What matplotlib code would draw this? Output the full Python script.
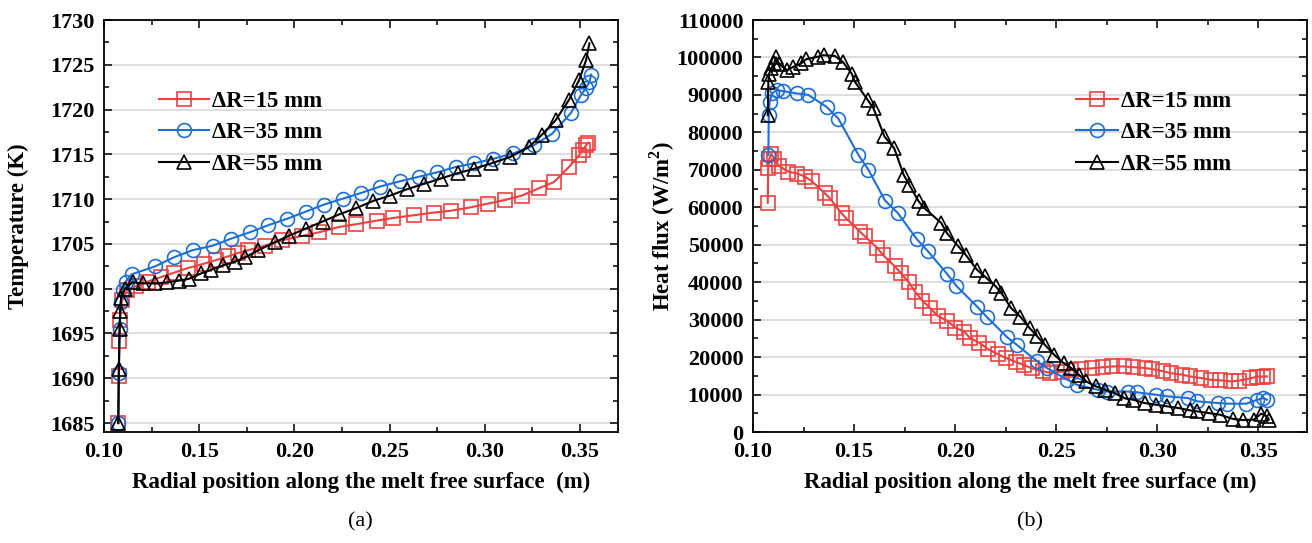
import matplotlib
matplotlib.use('Agg')
import matplotlib.pyplot as plt
from matplotlib.ticker import MultipleLocator

plt.rcParams['font.family'] = ['Liberation Serif', 'DejaVu Serif']
plt.rcParams['font.weight'] = 'bold'
plt.rcParams['mathtext.fontset'] = 'custom'
plt.rcParams['mathtext.rm'] = 'Liberation Serif:bold'

RED = '#ef3f3f'
BLUE = '#1c6fd8'
BLACK = '#000000'

labels = ['\u0394R=15 mm', '\u0394R=35 mm', '\u0394R=55 mm']

# (a) temperature along the free surface
x_t15 = [0.1075, 0.1078, 0.1080, 0.1083, 0.1095, 0.1120, 0.1170, 0.1230, 0.1300, 0.1370,
         0.1440, 0.1527, 0.1590, 0.1651, 0.1705, 0.1757, 0.1846, 0.1935, 0.2041, 0.2130,
         0.2236, 0.2325, 0.2432, 0.2520, 0.2627, 0.2733, 0.2822, 0.2929, 0.3017, 0.3106,
         0.3195, 0.3283, 0.3363, 0.3443, 0.3496, 0.3514, 0.3532, 0.3545]
t15 = [1685.0, 1690.3, 1694.2, 1696.5, 1698.7, 1699.8, 1700.3, 1700.8, 1701.3, 1701.8,
       1702.3, 1702.8, 1703.2, 1703.6, 1704.0, 1704.3, 1704.8, 1705.4, 1705.9, 1706.3,
       1706.9, 1707.2, 1707.6, 1707.9, 1708.2, 1708.5, 1708.7, 1709.1, 1709.5, 1709.9,
       1710.4, 1711.2, 1711.9, 1713.6, 1714.9, 1715.5, 1716.0, 1716.3]

x_t35 = [0.1075, 0.1078, 0.1082, 0.1088, 0.1100, 0.1115, 0.1145, 0.1269, 0.1367, 0.1465,
         0.1571, 0.1669, 0.1766, 0.1864, 0.1961, 0.2059, 0.2157, 0.2254, 0.2352, 0.2449,
         0.2556, 0.2654, 0.2751, 0.2849, 0.2946, 0.3044, 0.3150, 0.3257, 0.3354, 0.3452,
         0.3505, 0.3532, 0.3550, 0.3559]
t35 = [1685.0, 1690.6, 1695.5, 1698.5, 1699.9, 1700.8, 1701.6, 1702.5, 1703.5, 1704.3,
       1704.8, 1705.6, 1706.3, 1707.1, 1707.8, 1708.6, 1709.4, 1710.05, 1710.7, 1711.4,
       1712.0, 1712.5, 1713.0, 1713.6, 1714.0, 1714.5, 1715.1, 1716.0, 1717.3, 1719.6,
       1721.6, 1722.4, 1723.1, 1723.9]

x_t55 = [0.1075, 0.1078, 0.1082, 0.1085, 0.1090, 0.1110, 0.1150, 0.1205, 0.1268, 0.1330,
         0.1393, 0.1446, 0.1509, 0.1562, 0.1625, 0.1687, 0.1741, 0.1811, 0.1899, 0.1970,
         0.2059, 0.2148, 0.2236, 0.2325, 0.2414, 0.2503, 0.2591, 0.2680, 0.2769, 0.2858,
         0.2946, 0.3035, 0.3133, 0.3230, 0.3301, 0.3372, 0.3443, 0.3496, 0.3532, 0.3550]
t55 = [1685.0, 1691.0, 1695.5, 1697.5, 1699.0, 1700.0, 1700.7, 1700.6, 1700.6, 1700.7,
       1700.9, 1701.1, 1701.7, 1702.1, 1702.6, 1703.0, 1703.5, 1704.3, 1705.2, 1705.9,
       1706.7, 1707.5, 1708.3, 1709.0, 1709.8, 1710.4, 1711.1, 1711.7, 1712.3, 1712.9,
       1713.4, 1714.0, 1714.7, 1715.8, 1717.2, 1718.8, 1721.1, 1723.3, 1725.5, 1727.4]

# (b) heat flux along the free surface
x_q15 = [0.1073, 0.1075, 0.1080, 0.1090, 0.1105, 0.1130, 0.1175, 0.1220, 0.1257, 0.1290,
         0.1356, 0.1380, 0.1438, 0.1460, 0.1529, 0.1554, 0.1615, 0.1642, 0.1700, 0.1730,
         0.1770, 0.1801, 0.1838, 0.1875, 0.1913, 0.1960, 0.2000, 0.2045, 0.2071, 0.2120,
         0.2160, 0.2210, 0.2250, 0.2300, 0.2341, 0.2378, 0.2434, 0.2471, 0.2527, 0.2574,
         0.2620, 0.2676, 0.2732, 0.2778, 0.2834, 0.2881, 0.2937, 0.2974, 0.3030, 0.3067,
         0.3123, 0.3160, 0.3216, 0.3263, 0.3309, 0.3365, 0.3402, 0.3458, 0.3495, 0.3523,
         0.3542]
q15 = [61200, 70500, 72800, 74300, 73000, 71000, 69500, 69000, 68200, 67000,
       63700, 62400, 58400, 57100, 53500, 52200, 49100, 47300, 44300, 42500,
       40000, 37500, 35000, 33200, 31000, 29700, 27900, 26800, 25200, 23800,
       22200, 20800, 19800, 18700, 17900, 17000, 16200, 15800, 16100, 16500,
       16800, 17000, 17300, 17500, 17500, 17300, 17100, 16800, 16200, 15700,
       15300, 14850, 14400, 13950, 13800, 13500, 13700, 14300, 14800, 14800,
       14850]

x_q35 = [0.1076, 0.1078, 0.1082, 0.1095, 0.1117, 0.1149, 0.1216, 0.1273, 0.1364, 0.1422,
         0.1521, 0.1571, 0.1653, 0.1717, 0.1810, 0.1866, 0.1960, 0.2006, 0.2108, 0.2155,
         0.2257, 0.2304, 0.2406, 0.2453, 0.2555, 0.2602, 0.2704, 0.2750, 0.2853, 0.2899,
         0.2992, 0.3048, 0.3151, 0.3197, 0.3300, 0.3346, 0.3439, 0.3495, 0.3523, 0.3542]
q35 = [74000, 84600, 88200, 90400, 91300, 91000, 90400, 90000, 86800, 83700,
       74000, 70000, 61800, 58400, 51500, 48200, 42200, 39000, 33500, 30800,
       25300, 23300, 18850, 17100, 13960, 12600, 11300, 10800, 10800, 10600,
       9960, 9500, 9070, 8180, 7730, 7560, 7560, 8620, 9070, 8620]

x_q55 = [0.1073, 0.1076, 0.1080, 0.1090, 0.1105, 0.1114, 0.1130, 0.1168, 0.1200, 0.1238,
         0.1262, 0.1320, 0.1350, 0.1405, 0.1446, 0.1488, 0.1504, 0.1568, 0.1596, 0.1650,
         0.1698, 0.1745, 0.1773, 0.1819, 0.1847, 0.1931, 0.1959, 0.2015, 0.2052, 0.2108,
         0.2145, 0.2201, 0.2229, 0.2276, 0.2322, 0.2369, 0.2406, 0.2443, 0.2490, 0.2536,
         0.2574, 0.2611, 0.2648, 0.2695, 0.2741, 0.2788, 0.2834, 0.2881, 0.2937, 0.2992,
         0.3048, 0.3104, 0.3160, 0.3197, 0.3253, 0.3309, 0.3374, 0.3421, 0.3477, 0.3514,
         0.3542, 0.3551]
q55 = [84600, 93500, 95700, 97100, 98500, 100000, 98200, 96600, 97500, 98400,
       99500, 100200, 100600, 100400, 98700, 95700, 93500, 88600, 86400, 78900,
       75800, 68700, 66000, 61600, 59800, 55800, 53100, 49600, 47300, 43300,
       41600, 38850, 37100, 33100, 30800, 27700, 25500, 23300, 20600, 18400,
       17100, 15300, 13500, 12200, 11300, 10400, 9070, 8620, 7730, 7290,
       6850, 6400, 5780, 5510, 5070, 4620, 3500, 3200, 3300, 4890,
       4180, 3290]

W, H = 1312, 543
fig = plt.figure(figsize=(W / 100, H / 100), dpi=100)
ax1 = fig.add_axes([104 / W, 1 - 432 / H, (618 - 104) / W, (432 - 20) / H])
ax2 = fig.add_axes([753 / W, 1 - 432 / H, (1307 - 753) / W, (432 - 20) / H])

styles = [dict(color=RED, marker='s', markersize=9.5),
          dict(color=BLUE, marker='o', markersize=10),
          dict(color=BLACK, marker='^', markersize=10.5)]


def draw(ax, xs, ys):
    for x, y, st, lab in zip(xs, ys, styles, labels):
        ax.plot(x, y, linestyle='-', linewidth=1.5, markerfacecolor='none',
                markeredgewidth=1.2, label=lab, **st)


draw(ax1, [x_t15, x_t35, x_t55], [t15, t35, t55])
draw(ax2, [x_q15, x_q35, x_q55], [q15, q35, q55])

ax1.set_xlim(0.10, 0.37)
ax1.set_ylim(1684, 1730)
ax1.yaxis.set_major_locator(MultipleLocator(5))
ax1.yaxis.set_minor_locator(MultipleLocator(2.5))

ax2.set_xlim(0.10, 0.374)
ax2.set_ylim(0, 110000)
ax2.yaxis.set_major_locator(MultipleLocator(10000))
ax2.yaxis.set_minor_locator(MultipleLocator(5000))

for ax in (ax1, ax2):
    ax.xaxis.set_major_locator(MultipleLocator(0.05))
    ax.xaxis.set_minor_locator(MultipleLocator(0.025))
    ax.xaxis.set_major_formatter(matplotlib.ticker.FormatStrFormatter('%.2f'))
    ax.tick_params(which='both', direction='in', top=True, right=True,
                   labelsize=16, pad=7, width=1.1)
    ax.tick_params(which='major', length=6)
    ax.tick_params(which='minor', length=3.5)
    ax.grid(axis='y', which='major', color='#d4d4d4', linewidth=1.1)
    ax.set_axisbelow(True)
    for sp in ax.spines.values():
        sp.set_linewidth(1.3)
    ax.set_xlabel('Radial position along the melt free surface  (m)' if ax is ax1
                  else 'Radial position along the melt free surface (m)',
                  fontsize=16.5, fontweight='bold')
    ax.xaxis.set_label_coords(0.5, -0.097)

ax1.set_ylabel('Temperature (K)', fontsize=16.5, fontweight='bold')
ax1.yaxis.set_label_coords(-0.146, 0.5)
ax2.set_ylabel('Heat flux (W/m$^2$)', fontsize=16.5, fontweight='bold')
ax2.yaxis.set_label_coords(-0.137, 0.5)

leg_kw = dict(loc='upper left', frameon=False, fontsize=16.5, numpoints=1,
              borderpad=0, borderaxespad=0, handletextpad=0.1, labelspacing=0.45)
ax1.legend(bbox_to_anchor=(159 / W, 1 - 91 / H), bbox_transform=fig.transFigure,
           handlelength=2.2, **leg_kw)
ax2.legend(bbox_to_anchor=(1076 / W, 1 - 91 / H), bbox_transform=fig.transFigure,
           handlelength=1.85, **leg_kw)

fig.text(360 / W, 1 - 522 / H, '(a)', ha='center', va='center', fontsize=16, fontweight='normal')
fig.text(1030 / W, 1 - 522 / H, '(b)', ha='center', va='center', fontsize=16, fontweight='normal')

fig.savefig('out.png', dpi=100)
